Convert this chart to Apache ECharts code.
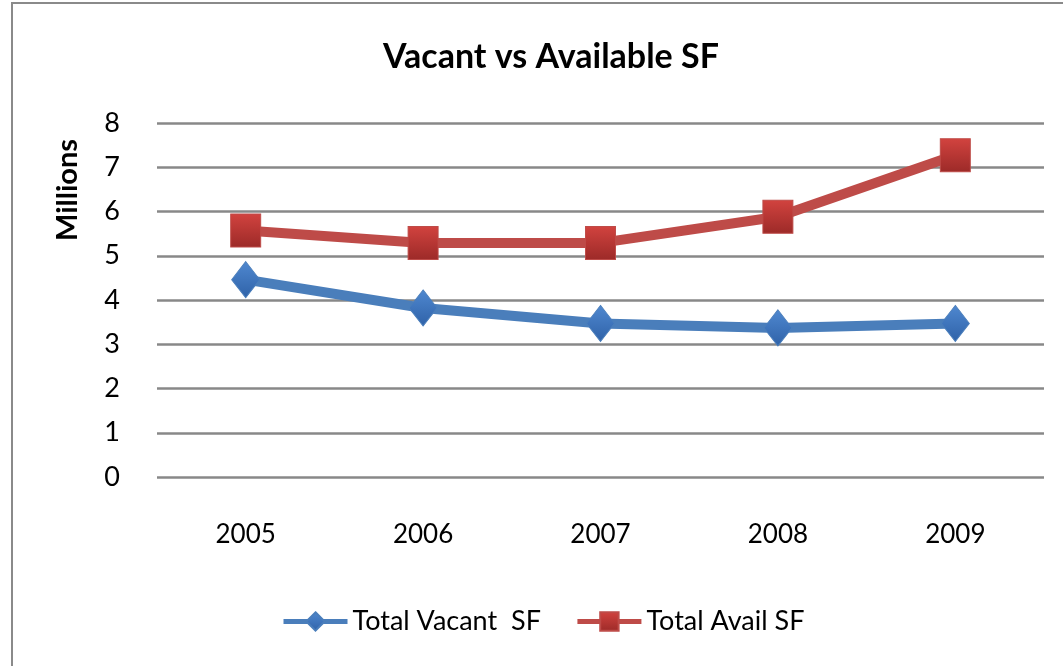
<!DOCTYPE html>
<html>
<head>
<meta charset="utf-8">
<script src="https://cdn.jsdelivr.net/npm/echarts@6/dist/echarts.min.js"></script>
<style>
html,body{margin:0;padding:0;background:#fff;}
#chart{width:1063px;height:666px;}
</style>
</head>
<body>
<div id="chart"></div>
<script>
const categories = ['2005', '2006', '2007', '2008', '2009'];
const vacantSF = [4.46, 3.82, 3.47, 3.37, 3.47];
const availSF = [5.57, 5.29, 5.29, 5.88, 7.27];
const yTicks = { min: 0, max: 8, interval: 1 };
const seriesNames = ['Total Vacant  SF', 'Total Avail SF'];

const FONT = 'Lato, Carlito, Calibri, sans-serif';
const chart = echarts.init(document.getElementById('chart'), null, { renderer: 'canvas' });

const blueGrad = new echarts.graphic.LinearGradient(0, 0, 0, 1, [
  { offset: 0, color: '#4f88d0' }, { offset: 1, color: '#2f62a8' }
]);
const redGrad = new echarts.graphic.LinearGradient(0, 0, 0, 1, [
  { offset: 0, color: '#d2433f' }, { offset: 1, color: '#9c2a28' }
]);

chart.setOption({
  backgroundColor: '#ffffff',
  animation: false,
  title: {
    text: 'Vacant vs Available SF',
    left: 378,
    top: 35,
    textStyle: { fontFamily: FONT, fontWeight: 'bold', fontSize: 34, color: '#000' }
  },
  graphic: [
    {
      type: 'rect',
      shape: { x: 12, y: 3, width: 1060, height: 680 },
      style: { fill: 'none', stroke: '#8a8a8a', lineWidth: 2 },
      silent: true
    },
    {
      type: 'text',
      x: 68, y: 190,
      rotation: Math.PI / 2,
      style: {
        text: 'Millions',
        fontFamily: FONT, fontWeight: 'bold', fontSize: 29, fill: '#000',
        align: 'center', verticalAlign: 'middle'
      }
    }
  ],
  grid: { left: 157, right: 19, top: 123, bottom: 189, containLabel: false },
  legend: {
    left: 276,
    top: 603,
    itemWidth: 64,
    itemHeight: 23,
    itemGap: 34,
    lineStyle: { width: 5 },
    textStyle: { fontFamily: FONT, fontSize: 27, color: '#000' },
    data: [seriesNames[0], seriesNames[1]]
  },
  xAxis: {
    type: 'category',
    data: categories,
    boundaryGap: true,
    axisLine: { show: false },
    axisTick: { show: false },
    axisLabel: { fontFamily: FONT, fontSize: 26, color: '#000', margin: 45 }
  },
  yAxis: {
    type: 'value',
    min: yTicks.min, max: yTicks.max, interval: yTicks.interval,
    axisLine: { show: false },
    axisTick: { show: false },
    axisLabel: { fontFamily: FONT, fontSize: 27, color: '#000', margin: 37 },
    splitLine: { lineStyle: { color: '#888888', width: 2.5 } }
  },
  series: [
    {
      name: seriesNames[0],
      type: 'line',
      data: vacantSF,
      symbol: 'diamond',
      symbolSize: [28, 36],
      lineStyle: { color: '#4a7ebb', width: 10 },
      itemStyle: { color: blueGrad, borderColor: '#4a7ebb', borderWidth: 1 },
      z: 2
    },
    {
      name: seriesNames[1],
      type: 'line',
      data: availSF,
      symbol: 'rect',
      symbolSize: [30, 33],
      lineStyle: { color: '#be4b48', width: 10 },
      itemStyle: { color: redGrad, borderColor: '#be4b48', borderWidth: 1 },
      z: 3
    }
  ]
});
</script>
</body>
</html>
